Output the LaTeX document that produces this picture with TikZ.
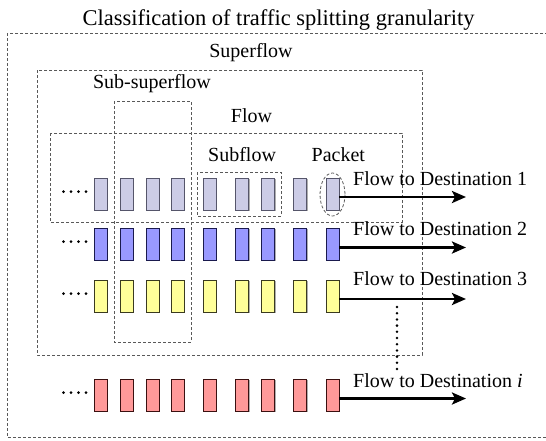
\documentclass[tikz,border=0pt]{standalone}
\usepackage{fontspec}
\setmainfont{Liberation Serif}
\usetikzlibrary{arrows.meta,shadows}

\definecolor{rowA}{HTML}{CCCCE6}
\definecolor{rowB}{HTML}{9999FF}
\definecolor{rowC}{HTML}{FFFF99}
\definecolor{rowD}{HTML}{FF9999}
\definecolor{edgeA}{HTML}{55556A}
\definecolor{edgeB}{HTML}{1A1A4D}
\definecolor{edgeC}{HTML}{3A3A20}
\definecolor{edgeD}{HTML}{3A1010}

\begin{document}
\begin{tikzpicture}[x=1pt,y=-1pt,
  frame/.style={draw=black!65, line width=0.8pt, dash pattern=on 3pt off 2pt},
  pkt/.style={line width=0.9pt, minimum width=13pt, minimum height=32pt, inner sep=0pt,
    drop shadow={shadow xshift=1.2pt, shadow yshift=-1.2pt, fill=black!45, opacity=0.7}},
  lbl/.style={font=\fontsize{20}{24}\selectfont, inner sep=0pt},
  flowarrow/.style={line width=2.6pt, -{Stealth[length=14pt,width=12pt,inset=3pt]}}
]
\useasboundingbox (0,0) rectangle (546,440);
\clip (0,0) rectangle (546,440);

% title
\node[font=\fontsize{22.5}{27}\selectfont, inner sep=0pt, anchor=base] (title) at (278.5,25)
  {Classification of traffic splitting granularity};

% nested granularity frames
\draw[frame] (7,33) rectangle (556,437);
\draw[frame] (37,70) rectangle (422,355);
\draw[frame] (114,101) rectangle (191,342);
\draw[frame] (50,133) rectangle (402,222);
\draw[frame] (197,172) rectangle (281,216);
\draw[frame] (332.5,194.5) ellipse (12.5 and 21.5);

% frame captions
\node[lbl, anchor=base] (lsuper) at (251,57) {Superflow};
\node[lbl, anchor=base] (lsubsuper) at (152,88) {Sub-superflow};
\node[lbl, anchor=base] (lflow) at (251.5,122) {Flow};
\node[lbl, anchor=base west] (lsubflow) at (208,161) {Subflow};
\node[lbl, anchor=base west] (lpacket) at (311.5,161) {Packet};

% packet rows
\foreach \r/\y/\f/\d in {1/194/rowA/edgeA, 2/244/rowB/edgeB, 3/296/rowC/edgeC, 4/395/rowD/edgeD}{
  \foreach \c/\x in {1/100.5, 2/126.5, 3/152.5, 4/177.5, 5/209.5, 6/242, 7/268, 8/300, 9/332.5}{
    \node[pkt, fill=\f, draw=\d] (r\r\c) at (\x,\y) {};
  }
  \foreach \x in {63.5,71,78.5,86}{
    \fill (\x,\y-2.5) circle (1.5pt);
  }
}

% vertical ellipsis between destination 3 and destination i
\foreach \k in {0,...,10}{
  \fill (397,307+6.2*\k) circle (1.4pt);
}

% arrow ends
\coordinate (e1) at (466,197);
\coordinate (e2) at (466,247.5);
\coordinate (e3) at (466,299);
\coordinate (e4) at (466,398.5);

\draw[flowarrow] ([yshift=-3pt]r19.east) -- (e1);
\draw[flowarrow] ([yshift=-3.5pt]r29.east) -- (e2);
\draw[flowarrow] ([yshift=-3pt]r39.east) -- (e3);
\draw[flowarrow] ([yshift=-3.5pt]r49.east) -- (e4);

% destination labels
\node[lbl, anchor=base west] (d1) at (353,185) {Flow to Destination 1};
\node[lbl, anchor=base west] (d2) at (353,235) {Flow to Destination 2};
\node[lbl, anchor=base west] (d3) at (353,285) {Flow to Destination 3};
\node[lbl, anchor=base west] (d4) at (353,387) {Flow to Destination \textit{i}};
\end{tikzpicture}
\end{document}
